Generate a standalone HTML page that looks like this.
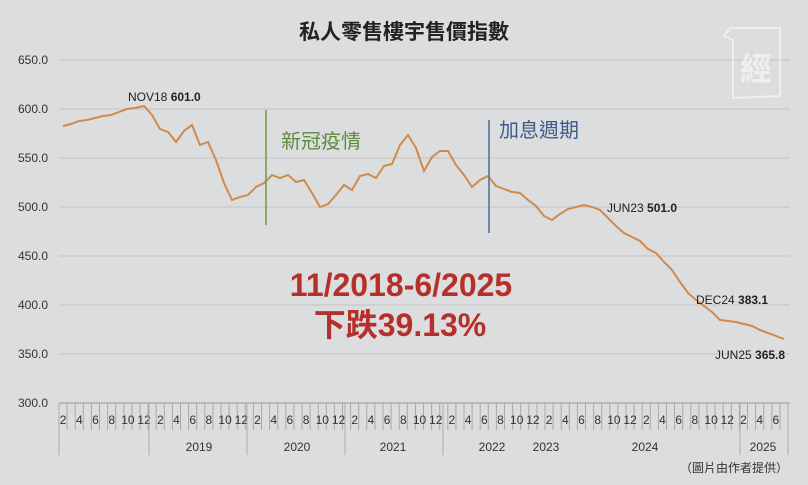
<!DOCTYPE html>
<html><head><meta charset="utf-8"><style>
body{margin:0;width:808px;height:485px;background:#dcdddf;overflow:hidden}
svg{display:block}
text{font-family:"Liberation Sans","Noto Sans CJK TC",sans-serif}
</style></head><body>
<svg width="808" height="485" viewBox="0 0 808 485">
<rect width="808" height="485" fill="#dcdddf"/>
<text x="404" y="39" text-anchor="middle" font-size="21" font-weight="bold" fill="#222">私人零售樓宇售價指數</text>
<g stroke="#c3c4c6" stroke-width="1">
<line x1="59" y1="60" x2="790" y2="60"/><line x1="59" y1="109" x2="790" y2="109"/>
<line x1="59" y1="158" x2="790" y2="158"/><line x1="59" y1="207" x2="790" y2="207"/>
<line x1="59" y1="256" x2="790" y2="256"/><line x1="59" y1="305" x2="790" y2="305"/>
<line x1="59" y1="354" x2="790" y2="354"/>
</g>
<line x1="59" y1="403" x2="790" y2="403" stroke="#999"/>
<g font-size="12" fill="#333" text-anchor="end">
<text x="48" y="64">650.0</text><text x="48" y="113">600.0</text><text x="48" y="162">550.0</text>
<text x="48" y="211">500.0</text><text x="48" y="260">450.0</text><text x="48" y="309">400.0</text>
<text x="48" y="358">350.0</text><text x="48" y="407">300.0</text>
</g>
<g id="ticks" stroke="#aaa" stroke-width="1"></g>
<g id="mlab" font-size="12" fill="#333" text-anchor="middle"></g>
<g stroke="#aaa"><line x1="59" y1="403" x2="59" y2="455"/><line x1="149" y1="403" x2="149" y2="455"/><line x1="247" y1="403" x2="247" y2="455"/><line x1="345" y1="403" x2="345" y2="455"/><line x1="443" y1="403" x2="443" y2="455"/><line x1="740" y1="403" x2="740" y2="455"/><line x1="788" y1="403" x2="788" y2="455"/></g>
<g font-size="12" fill="#333" text-anchor="middle">
<text x="199" y="451">2019</text><text x="297" y="451">2020</text><text x="393" y="451">2021</text>
<text x="492" y="451">2022</text><text x="546" y="451">2023</text><text x="645" y="451">2024</text><text x="763" y="451">2025</text>
</g>
<text x="788" y="472" text-anchor="end" font-size="12" fill="#333">（圖片由作者提供）</text>
<polyline fill="none" stroke="#d08a4a" stroke-width="2" points="63,126 71,124 79,121 87,120 95,118 103,116 111,115 119,112 127,109 135,108 144,106 152,115 160,129 168,132 176,142 184,131 192,125 200,145 208,142 216,160 224,183 232,200 240,197 248,195 256,187 264,183 272,175 280,178 288,175 296,182 304,180 312,193 320,207 328,204 336,195 344,185 352,190 360,176 368,174 376,178 384,166 392,164 400,145 408,135 416,148 424,171 432,157 440,151 448,151 456,165 464,175 472,187 480,180 488,176 496,186 504,189 512,192 520,193 528,200 536,206 544,216 552,220 560,214 568,209 576,207 584,205 592,207 600,210 608,218 616,226 624,233 632,237 640,241 648,249 656,253 664,262 672,270 680,282 688,293 696,300 704,306 712,312 720,320 728,321 736,322 744,324 752,326 760,330 768,333 776,336 784,339"/>
<line x1="266" y1="110" x2="266" y2="225" stroke="#6f9a45" stroke-width="1.5"/>
<line x1="489" y1="120" x2="489" y2="233" stroke="#4a6a9a" stroke-width="1.5"/>
<text x="281" y="148" font-size="20" fill="#5f8a3f">新冠疫情</text>
<text x="499" y="137" font-size="20" fill="#3d5c8c">加息週期</text>
<text x="128" y="101" font-size="12" fill="#222">NOV18 <tspan font-weight="bold">601.0</tspan></text>
<text x="607" y="212" font-size="12" fill="#222">JUN23 <tspan font-weight="bold">501.0</tspan></text>
<text x="696" y="304" font-size="12" fill="#222">DEC24 <tspan font-weight="bold">383.1</tspan></text>
<text x="715" y="359" font-size="12" fill="#222">JUN25 <tspan font-weight="bold">365.8</tspan></text>
<text x="401" y="296" text-anchor="middle" font-size="32" font-weight="bold" fill="#b5302a">11/2018-6/2025</text>
<text x="400" y="336" text-anchor="middle" font-size="32" font-weight="bold" fill="#b5302a">下跌39.13%</text>
<g opacity="0.8"><path d="M730 28 L780 28 L780 96 L733 98 L733 40 L724 36 Z" fill="none" stroke="#f4f4f4" stroke-width="2"/>
<text x="756" y="80" text-anchor="middle" font-size="32" font-weight="bold" fill="#f4f4f4">經</text></g>
<script>
var t=document.getElementById('ticks'),m=document.getElementById('mlab'),ns='http://www.w3.org/2000/svg';
for(var i=0;i<90;i++){var x=59+i*8.1;var l=document.createElementNS(ns,'line');l.setAttribute('x1',x);l.setAttribute('x2',x);l.setAttribute('y1',403);l.setAttribute('y2',430);t.appendChild(l);
if(i%2==1){var tx=document.createElementNS(ns,'text');tx.setAttribute('x',x-4);tx.setAttribute('y',424);tx.textContent=((i%12)+1);m.appendChild(tx);}}
</script>
</svg>
</body></html>
